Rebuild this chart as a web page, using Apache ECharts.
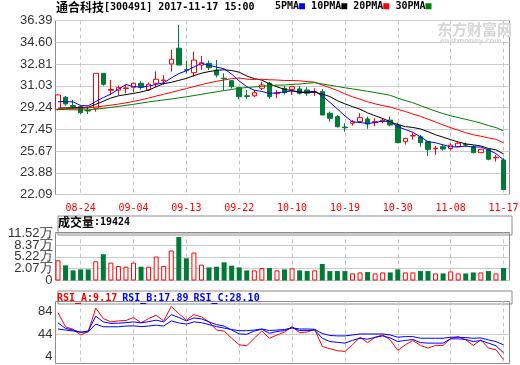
<!DOCTYPE html>
<html><head><meta charset="utf-8">
<script src="https://cdn.jsdelivr.net/npm/echarts@6/dist/echarts.min.js"></script>
<style>html,body{margin:0;padding:0;background:#fff}#c{width:520px;height:365px}</style>
</head><body><div id="c"></div>
<script>
// ---------- data ----------
const stockName = '通合科技';
const stockCode = '300491';
const stampText = '2017-11-17 15:00';
const volumeHeaderValue = '19424';

const dates = ['08-21','08-22','08-23','08-24','08-25','08-28','08-29','08-30','08-31','09-01',
'09-04','09-05','09-06','09-07','09-08','09-11','09-12','09-13','09-14','09-15',
'09-18','09-19','09-20','09-21','09-22','09-25','09-26','09-27','09-28','09-29',
'10-09','10-10','10-11','10-12','10-13','10-16','10-17','10-18','10-19','10-20',
'10-23','10-24','10-25','10-26','10-27','10-30','10-31','11-01','11-02','11-03',
'11-06','11-07','11-08','11-09','11-10','11-13','11-14','11-15','11-16','11-17'];

const opens = [29.09,30.08,29.40,29.31,29.00,29.18,32.05,30.65,30.67,30.80,
30.90,31.23,30.68,31.23,31.45,32.82,34.11,32.35,32.10,32.73,
32.87,32.32,31.65,31.44,30.87,30.20,30.20,30.82,31.23,30.38,
30.82,30.73,30.77,30.68,30.50,30.54,28.77,28.49,27.63,27.95,
28.08,28.30,28.00,28.08,28.20,27.80,26.43,26.90,26.84,26.43,
25.85,26.02,25.87,26.02,26.20,26.02,25.53,25.81,25.10,24.93];
const closes = [30.27,29.53,29.32,28.81,28.95,32.05,31.15,30.72,30.87,30.85,
31.23,30.90,31.15,31.56,31.50,33.20,32.73,32.30,33.14,32.92,
32.51,31.91,31.60,30.95,30.13,30.15,30.46,31.09,30.13,30.42,
30.46,30.95,30.41,30.41,30.55,28.63,28.35,27.66,27.58,28.08,
28.40,27.88,28.08,28.20,27.80,26.35,26.70,26.95,26.35,25.80,
25.90,25.83,26.15,26.30,26.15,25.53,25.81,24.99,25.15,22.50];
const lows = [29.00,29.39,29.10,28.71,28.71,28.90,31.03,30.27,30.27,30.40,
30.50,30.70,30.60,30.95,31.10,32.18,32.73,32.05,31.77,32.32,
32.30,31.72,30.68,30.80,29.92,29.95,30.10,30.68,29.95,30.00,
30.30,30.27,30.30,30.20,30.20,28.60,28.07,27.60,27.25,27.75,
27.95,27.50,27.70,27.95,27.70,26.30,26.20,26.60,26.02,25.25,
25.35,25.70,25.70,26.00,26.00,25.47,25.50,24.90,24.79,22.46];
const highs = [30.30,30.19,29.86,29.40,29.31,32.05,32.05,31.50,31.03,31.09,
31.30,31.40,31.30,32.20,31.90,33.97,36.02,33.10,33.83,33.47,
33.10,33.14,32.05,31.50,30.95,30.68,30.68,31.36,31.36,30.68,
31.00,31.03,31.00,30.90,30.82,30.73,28.90,28.63,27.94,28.20,
28.77,28.50,28.35,28.35,28.50,28.00,26.75,27.17,26.98,26.50,
26.08,26.20,26.30,26.40,26.35,26.15,25.85,25.85,25.34,25.07];

const ma5 = [29.72,29.72,29.70,29.40,29.38,29.73,30.06,30.34,30.75,31.13,
30.96,30.91,31.00,31.14,31.27,31.66,32.03,32.26,32.57,32.86,
32.72,32.56,32.42,31.98,31.42,30.95,30.66,30.56,30.39,30.45,
30.51,30.61,30.47,30.53,30.56,30.19,29.67,29.12,28.55,28.06,
28.01,27.92,28.00,28.13,28.07,27.66,27.43,27.20,26.83,26.43,
26.34,26.17,26.01,26.00,26.07,25.99,25.99,25.76,25.45,24.95];
const ma10 = [29.18,29.20,29.22,29.24,29.26,29.50,29.75,30.02,30.20,30.30,
30.40,30.52,30.67,30.94,31.20,31.31,31.47,31.63,31.86,32.06,
32.19,32.29,32.34,32.28,32.14,31.83,31.61,31.49,31.19,30.94,
30.73,30.63,30.52,30.46,30.50,30.35,30.14,29.80,29.54,29.31,
29.10,28.80,28.56,28.34,28.07,27.84,27.67,27.60,27.48,27.25,
27.00,26.80,26.60,26.41,26.25,26.17,26.08,25.88,25.76,25.43];
const ma20 = [29.15,29.15,29.16,29.18,29.20,29.28,29.35,29.43,29.52,29.62,
29.74,29.87,30.02,30.18,30.33,30.48,30.64,30.80,30.96,31.12,
31.27,31.39,31.50,31.61,31.67,31.57,31.54,31.56,31.52,31.50,
31.46,31.46,31.43,31.37,31.32,31.09,30.87,30.64,30.36,30.12,
29.92,29.71,29.54,29.40,29.28,29.09,28.91,28.70,28.51,28.28,
28.05,27.80,27.58,27.38,27.16,27.00,26.88,26.74,26.62,26.34];
const ma30 = [29.08,29.07,29.05,29.04,29.05,29.10,29.17,29.25,29.33,29.42,
29.50,29.60,29.70,29.78,29.86,29.94,30.03,30.12,30.22,30.32,
30.43,30.53,30.63,30.72,30.82,30.88,30.93,30.98,31.03,31.08,
31.09,31.14,31.17,31.23,31.28,31.17,31.07,30.97,30.86,30.77,
30.67,30.57,30.47,30.36,30.24,30.01,29.81,29.63,29.40,29.16,
28.94,28.74,28.56,28.41,28.27,28.12,27.96,27.76,27.59,27.33];

// volume, in 万
const volumes = [4.93,3.70,2.47,2.71,2.71,4.69,6.41,4.36,3.54,3.37,
4.36,3.37,3.37,5.84,3.54,7.32,10.61,5.43,6.82,3.87,
3.20,3.37,4.44,3.62,3.20,2.47,2.47,3.04,3.04,2.47,
2.71,2.96,2.47,2.30,2.47,4.03,2.30,2.30,2.30,1.73,
1.97,2.06,1.73,1.97,1.97,2.71,1.97,1.97,2.30,2.30,
1.73,1.73,2.22,1.73,1.73,1.97,1.97,2.30,1.73,3.04];

const rsiA = [69.7,51.4,48.1,40.8,45.0,75.5,62.0,57.7,59.0,59.5,
63.3,56.5,62.0,66.2,59.0,77.7,68.4,59.9,67.1,64.1,
57.7,47.2,45.9,36.6,28.1,26.9,36.6,46.0,36.6,40.8,
44.6,51.6,43.7,44.6,48.0,26.0,23.0,20.5,19.6,28.1,
37.9,31.0,37.9,40.8,34.5,20.9,28.1,33.6,27.3,23.9,
27.3,27.3,36.6,38.7,34.5,27.3,34.5,23.9,21.8,9.17];
const rsiB = [56.4,49.3,47.2,44.3,45.9,65.0,57.7,55.7,56.1,56.7,
57.7,56.4,58.0,59.9,57.7,67.1,63.3,59.0,62.8,61.5,
57.7,54.2,52.3,47.2,42.1,41.7,45.9,48.1,43.0,45.3,
46.5,50.1,46.5,46.5,47.2,36.6,32.3,31.3,30.3,33.8,
36.6,35.4,37.7,39.6,37.0,32.3,33.8,34.9,31.0,30.3,
30.3,30.3,35.8,35.8,35.1,32.3,33.6,30.3,26.9,17.89];
const rsiC = [48.5,47.2,45.9,44.3,45.0,54.8,51.4,51.4,51.4,52.3,
52.6,51.6,52.3,53.5,52.3,59.0,56.4,54.8,57.7,56.7,
54.2,51.6,49.7,47.8,46.3,46.3,47.2,48.5,46.5,47.2,
47.8,50.1,48.5,48.5,48.1,42.7,40.2,39.6,39.6,40.8,
42.1,42.1,42.1,42.1,40.8,37.9,38.7,38.7,36.6,36.6,
36.6,36.6,37.9,37.9,37.4,36.6,37.0,34.5,32.3,28.10];

const priceTicks = ['22.09','23.88','25.67','27.45','29.24','31.03','32.81','34.60','36.39'];
const volumeTicks = ['0','2.07万','5.22万','8.37万','11.52万'];
const rsiTicks = ['4','44','84'];
const labelEvery = 7, labelOffset = 3;

// ---------- styles ----------
const RED = '#ff0000', GREEN = '#007a37', BLUE = '#0000ff';
const MONO = "'DejaVu Sans Mono', 'Liberation Mono', monospace";
const CJK = "'Noto Sans CJK SC', sans-serif";
const AXF = "'Liberation Sans', Arial, sans-serif";
const frameColor = '#8c8c8c', gridColor = '#cccccc', dashColor = '#c4c4c4';
const NONE = 'rgba(0,0,0,0)';

const FL = 55.5, FW = 454;   // frame left / width
const DL = 58, DW = 445.5;   // data left / width
const P = [{top: 20.5, height: 174}, {top: 232.5, height: 48}, {top: 301.5, height: 62}];

function tickFmt(arr, scale) {
  return function (v) {
    const x = v * (scale || 1);
    const r = Math.round(x);
    if (Math.abs(x - r) > 1e-4) return '';
    if (scale && r % scale !== 0) return '';
    const idx = scale ? r / scale : r;
    return arr[idx] != null ? arr[idx] : '';
  };
}
const showIdx = (i) => i % labelEvery === labelOffset;

const grids = [];
P.forEach(p => grids.push({left: DL, width: DW, top: p.top, height: p.height, show: false, outerBoundsMode: 'none'}));
P.forEach(p => grids.push({left: FL, width: FW, top: p.top, height: p.height, show: true, borderColor: frameColor, borderWidth: 1, backgroundColor: 'transparent', outerBoundsMode: 'none'}));

const xAxes = [0, 1, 2].map(g => ({
  type: 'category', gridIndex: g, data: dates, boundaryGap: false,
  axisLine: {show: false}, axisTick: {show: false},
  axisLabel: {show: g === 0, interval: showIdx, color: RED, fontFamily: MONO, fontSize: 10, margin: 9},
  splitLine: {show: true, interval: showIdx, lineStyle: {color: dashColor, type: [4, 3], width: 1}}
})).concat([3, 4, 5].map(g => ({type: 'value', gridIndex: g, show: false, min: 0, max: 1})));

const labelStyle = {color: '#333', fontFamily: AXF, fontSize: 13, margin: 3,
  showMinLabel: true, showMaxLabel: true, hideOverlap: false};
// label axes use sub-steps so that min is a multiple of the interval and neighbours don't collide
const rsiLineColors = [NONE, NONE, NONE, NONE, gridColor, NONE, NONE, NONE, NONE, NONE, NONE, NONE];
const volLineColors = [gridColor, NONE];
const yAxes = [
  {type: 'value', gridIndex: 0, show: false, min: 22.09, max: 36.39},
  {type: 'value', gridIndex: 1, show: false, min: 0, max: 11.715},
  {type: 'value', gridIndex: 2, show: false, min: 4, max: 84},
  {type: 'value', gridIndex: 3, position: 'left', min: 0, max: 8, interval: 1,
   axisLine: {show: false}, axisTick: {show: false},
   axisLabel: Object.assign({formatter: tickFmt(priceTicks)}, labelStyle),
   splitLine: {show: true, lineStyle: {color: gridColor, width: 1}}},
  {type: 'value', gridIndex: 4, position: 'left', min: 0, max: 4.068, interval: 0.5,
   axisLine: {show: false}, axisTick: {show: false},
   axisLabel: Object.assign({formatter: tickFmt(volumeTicks, 2)}, labelStyle),
   splitLine: {show: true, lineStyle: {color: volLineColors, width: 1}}},
  {type: 'value', gridIndex: 5, position: 'left', min: -1 / 3, max: 2.465, interval: 1 / 3,
   axisLine: {show: false}, axisTick: {show: false},
   axisLabel: Object.assign({formatter: tickFmt(rsiTicks, 3)}, labelStyle),
   splitLine: {show: true, lineStyle: {color: rsiLineColors, width: 1}}}
];

const candleData = dates.map((d, i) => [opens[i], closes[i], lows[i], highs[i]]);
const volData = volumes.map((v, i) => ({
  value: v,
  itemStyle: closes[i] >= opens[i]
    ? {color: '#ffffff', borderColor: RED, borderWidth: 1}
    : {color: GREEN, borderColor: GREEN, borderWidth: 0}
}));

function line(data, color, xi, yi) {
  return {type: 'line', data: data, xAxisIndex: xi, yAxisIndex: yi, symbol: 'none', showSymbol: false,
    lineStyle: {color: color, width: 1}, itemStyle: {color: color}, silent: true, animation: false, clip: false};
}

const last = (a) => a[a.length - 1];

const option = {
  animation: false,
  backgroundColor: '#ffffff',
  grid: grids,
  xAxis: xAxes,
  yAxis: yAxes,
  title: [
    {left: 56, top: 1, padding: 0,
     text: '{c|' + stockName + '}{a|[' + stockCode + '] ' + stampText + '}',
     textStyle: {rich: {c: {fontFamily: CJK, fontSize: 12, color: '#000'}, a: {fontFamily: MONO, fontSize: 10, color: '#000'}}}},
    {left: 275, top: 1, padding: 0,
     text: '{t|5PMA}{b|■}{t| 10PMA}{k|■}{t| 20PMA}{r|■}{t| 30PMA}{g|■}',
     textStyle: {rich: {
       t: {fontFamily: MONO, fontSize: 10, color: '#000'},
       b: {fontFamily: MONO, fontSize: 10, color: BLUE},
       k: {fontFamily: MONO, fontSize: 10, color: '#000'},
       r: {fontFamily: MONO, fontSize: 10, color: RED},
       g: {fontFamily: MONO, fontSize: 10, color: '#008000'}}}},
    {left: 437, top: 22, padding: 0, text: '东方财富网',
     textStyle: {fontFamily: CJK, fontSize: 15, fontWeight: 'bold', color: '#d6d6d6'}},
    {left: 440, top: 38, padding: 0, text: 'eastmoney.com',
     textStyle: {fontFamily: "'DejaVu Sans'", fontSize: 7, fontWeight: 'bold', color: '#d6d6d6'}},
    {left: 58, top: 216, padding: 0,
     text: '{c|成交量}{a|:' + volumeHeaderValue + '}',
     textStyle: {rich: {c: {fontFamily: CJK, fontSize: 12, color: '#000'}, a: {fontFamily: MONO, fontSize: 10, color: '#000'}}}},
    {left: 57, top: 289, padding: 0,
     text: '{a|RSI_A:' + last(rsiA).toFixed(2) + '} {b|RSI_B:' + last(rsiB).toFixed(2) + '} {b|RSI_C:' + last(rsiC).toFixed(2) + '}',
     textStyle: {rich: {a: {fontFamily: MONO, fontSize: 10, color: RED}, b: {fontFamily: MONO, fontSize: 10, color: BLUE}}}}
  ],
  graphic: [
    {type: 'rect', left: FL, top: 213.5, shape: {width: FW, height: 19}, style: {fill: 'none', stroke: frameColor, lineWidth: 1}, silent: true},
    {type: 'rect', left: FL, top: 288.5, shape: {width: FW, height: 13}, style: {fill: 'none', stroke: frameColor, lineWidth: 1}, silent: true}
  ],
  series: [
    {type: 'candlestick', data: candleData, xAxisIndex: 0, yAxisIndex: 0, barWidth: 5, clip: false, silent: true,
     itemStyle: {color: '#ffffff', color0: GREEN, borderColor: RED, borderColor0: GREEN, borderWidth: 1}},
    line(ma5, BLUE, 0, 0),
    line(ma10, '#000000', 0, 0),
    line(ma20, RED, 0, 0),
    line(ma30, '#008000', 0, 0),
    {type: 'bar', data: volData, xAxisIndex: 1, yAxisIndex: 1, barWidth: 5, silent: true, animation: false},
    line(rsiA, RED, 2, 2),
    line(rsiB, BLUE, 2, 2),
    line(rsiC, BLUE, 2, 2)
  ]
};

const chart = echarts.init(document.getElementById('c'), null, {renderer: 'canvas', width: 520, height: 365});
chart.setOption(option);
</script>
</body></html>
